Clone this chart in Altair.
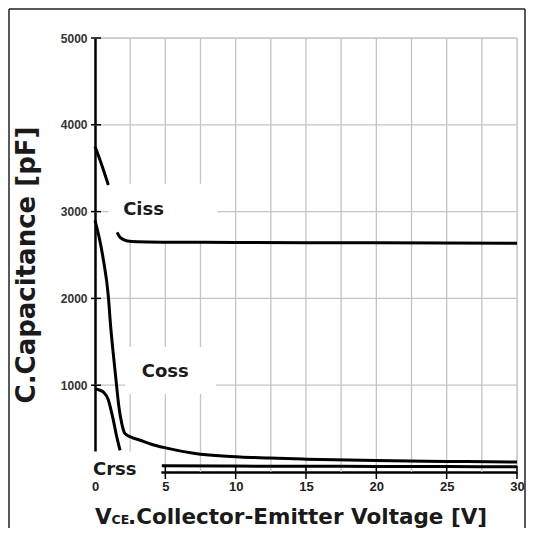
import altair as alt
import pandas as pd

# ---- data ----
ciss_a_x = [0.0, 0.3, 0.6, 0.95]
ciss_a_y = [3750, 3620, 3480, 3306]
ciss_b_x = [1.57, 1.8, 2.3, 3.0, 5.0, 10.0, 20.0, 30.0]
ciss_b_y = [2760, 2700, 2662, 2652, 2648, 2645, 2640, 2635]

coss_x = [0.0, 0.3, 0.6, 0.95, 1.1, 1.3, 1.5, 1.7, 1.9, 2.13, 2.6, 3.2, 4.0, 5.1, 7.0, 10.3, 12.4, 15.0, 20.0, 25.0, 30.0]
coss_y = [2900, 2700, 2440, 2020, 1700, 1360, 1050, 750, 560, 443, 400, 366, 320, 275, 215, 174, 160, 148, 132, 122, 115]

crss_a_x = [0.0, 0.3, 0.6, 0.95, 1.1, 1.3, 1.5, 1.78]
crss_a_y = [955, 945, 920, 830, 740, 600, 440, 250]
crss_b_x = [4.75, 10.0, 15.0, 20.0, 25.0, 30.0]
crss_b_y = [72, 68, 66, 64, 62, 60]

x_ticks = [0, 5, 10, 15, 20, 25, 30]
y_ticks = [1000, 2000, 3000, 4000, 5000]
x_grid = [2.5, 5, 7.5, 10, 12.5, 15, 17.5, 20, 22.5, 25, 27.5, 30]
y_grid = [1000, 2000, 3000, 4000, 5000]

labels = ["Ciss", "Coss", "Crss"]
label_x = [2.0, 3.32, -0.14]
label_y = [2960, 1096, -30]

# white label backgrounds (hide the grid behind the curve names)
box_x = [0.97, 2.15, -0.3]
box_x2 = [8.7, 8.6, 4.72]
box_y = [2650, 900, -40]
box_y2 = [3320, 1440, 235]

W, H = 422, 434

rows = []
for name, seg, xs_, ys_ in [("Ciss", "Ciss-a", ciss_a_x, ciss_a_y), ("Ciss", "Ciss-b", ciss_b_x, ciss_b_y),
                            ("Coss", "Coss", coss_x, coss_y),
                            ("Crss", "Crss-a", crss_a_x, crss_a_y), ("Crss", "Crss-b", crss_b_x, crss_b_y)]:
    for i, (a, b) in enumerate(zip(xs_, ys_)):
        rows.append({"series": name, "seg": seg, "order": i, "v": a, "c": b})
curves = pd.DataFrame(rows)

xs = alt.Scale(domain=[0, 30], nice=False, zero=False)
ys = alt.Scale(domain=[0, 5000], nice=False)

x_axis = alt.Axis(values=x_ticks, title=None, grid=False, ticks=False, domain=True,
                  domainColor="black", domainWidth=2.5, labelFont="Liberation Sans",
                  labelFontWeight="bold", labelFontSize=13, labelColor="#222",
                  labelPadding=8, labelFlush=False, format="d")
y_axis = alt.Axis(values=y_ticks, title=None, grid=False, ticks=False, domain=True,
                  domainColor="black", domainWidth=2.5, labelFont="Liberation Sans Narrow, Liberation Sans",
                  labelFontWeight="bold", labelFontSize=12, labelColor="#333",
                  labelPadding=8, format="d")

grid_v = alt.Chart(pd.DataFrame({"g": x_grid})).mark_rule(color="#c4c4c4", strokeWidth=1.3).encode(
    x=alt.X("g:Q", scale=xs, axis=x_axis), y=alt.value(0), y2=alt.value(H))
grid_h = alt.Chart(pd.DataFrame({"g": y_grid})).mark_rule(color="#c4c4c4", strokeWidth=1.3).encode(
    y=alt.Y("g:Q", scale=ys, axis=y_axis), x=alt.value(0), x2=alt.value(W))

boxes = alt.Chart(pd.DataFrame({"x": box_x, "x2": box_x2, "y": box_y, "y2": box_y2})).mark_rect(
    color="white").encode(x=alt.X("x:Q", scale=xs), x2="x2:Q", y=alt.Y("y:Q", scale=ys), y2="y2:Q")

lines = alt.Chart(curves).mark_line(color="black", strokeWidth=3, interpolate="monotone").encode(
    x=alt.X("v:Q", scale=xs), y=alt.Y("c:Q", scale=ys), detail="seg:N", order="order:Q")

ytick = alt.Chart(pd.DataFrame({"t": y_ticks})).mark_rule(color="black", strokeWidth=1.5).encode(
    y=alt.Y("t:Q", scale=ys), x=alt.value(-4), x2=alt.value(6))
xtick = alt.Chart(pd.DataFrame({"t": x_ticks[1:]})).mark_rule(color="black", strokeWidth=1.5).encode(
    x=alt.X("t:Q", scale=xs), y=alt.value(H - 6), y2=alt.value(H + 7))

names = alt.Chart(pd.DataFrame({"n": labels, "x": label_x, "y": label_y})).mark_text(
    font="DejaVu Sans", fontWeight="bold", fontSize=18, align="left", baseline="alphabetic",
    color="#1a1a1a").encode(x=alt.X("x:Q", scale=xs), y=alt.Y("y:Q", scale=ys), text="n:N")

tfont = dict(font="DejaVu Sans", fontWeight="bold", color="#1a1a1a", align="left", baseline="alphabetic")
TY = H + 52
title_v = alt.Chart(pd.DataFrame({"s": ["V"]})).mark_text(fontSize=21.5, **tfont).encode(
    x=alt.value(0), y=alt.value(TY), text="s:N")
title_ce = alt.Chart(pd.DataFrame({"s": ["CE"]})).mark_text(fontSize=12.5, **tfont).encode(
    x=alt.value(16.5), y=alt.value(TY), text="s:N")
title_rest = alt.Chart(pd.DataFrame({"s": [".Collector-Emitter Voltage [V]"]})).mark_text(
    fontSize=21.5, **tfont).encode(x=alt.value(33), y=alt.value(TY), text="s:N")
ytitle = alt.Chart(pd.DataFrame({"s": ["C.Capacitance [pF]"]})).mark_text(
    font="DejaVu Sans", fontWeight="bold", fontSize=26, color="#1a1a1a", align="center",
    baseline="alphabetic", angle=270).encode(x=alt.value(-60), y=alt.value(227), text="s:N")

frame_l = alt.Chart(pd.DataFrame({"a": [0]})).mark_rule(color="#222", strokeWidth=1.5).encode(
    x=alt.value(-86), y=alt.value(-29), y2=alt.value(H + 60))
frame_t = alt.Chart(pd.DataFrame({"a": [0]})).mark_rule(color="#222", strokeWidth=1.5).encode(
    x=alt.value(-86), x2=alt.value(430), y=alt.value(-29))
frame_r = alt.Chart(pd.DataFrame({"a": [0]})).mark_rule(color="#222", strokeWidth=1.5).encode(
    x=alt.value(430), y=alt.value(-29), y2=alt.value(H + 60))

chart = alt.layer(grid_v, grid_h, boxes, lines, ytick, xtick, names,
                  title_v, title_ce, title_rest, ytitle, frame_l, frame_t, frame_r).properties(
    width=W, height=H,
    autosize=alt.AutoSizeParams(type="none"),
    padding={"left": 87, "top": 30, "right": 9, "bottom": 56},
).configure_view(stroke=None).configure(background="white")

chart.save("out.html", embed_options={"renderer": "svg", "actions": False})
